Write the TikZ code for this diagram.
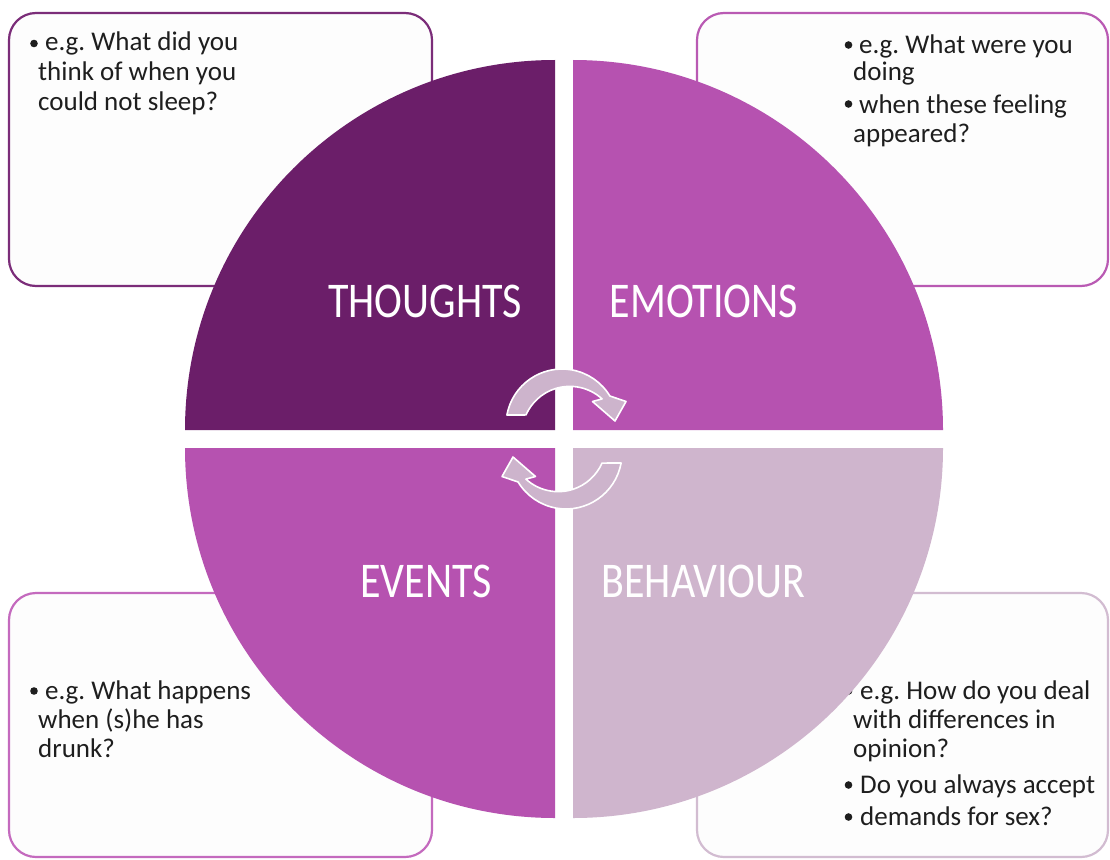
\documentclass[tikz,border=0pt]{standalone}
\usepackage{fontspec}
\setmainfont{Carlito}
\frenchspacing
\usetikzlibrary{calc}
\definecolor{qdark}{HTML}{6B1E69}
\definecolor{qmid}{HTML}{B652B0}
\definecolor{qlight}{HTML}{CFB5CD}
\definecolor{arrowfill}{HTML}{CDB4CC}
\definecolor{txt}{HTML}{1E1E1E}
\definecolor{bTL}{HTML}{7B2D79}
\definecolor{bTR}{HTML}{B95AB3}
\definecolor{bBL}{HTML}{C46ABE}
\definecolor{bBR}{HTML}{D2BCD1}
\definecolor{boxfill}{HTML}{FDFDFD}
\begin{document}
\begin{tikzpicture}[x=1pt,y=1pt,
  qbox/.style={rectangle, line width=2.2pt, rounded corners=27pt, fill=boxfill, inner sep=0pt},
  etxt/.style={anchor=base west, inner sep=0pt, text=txt, font=\fontsize{27}{29.5}\selectfont},
  bul/.style={circle, fill=txt, inner sep=0pt, minimum size=7.6pt},
  lbl/.style={anchor=base, inner sep=0pt, text=white, font=\fontsize{50}{60}\selectfont},
  cyclearrow/.style={fill=arrowfill, draw=white, line width=1.6pt, line join=round}]
\useasboundingbox (0,0) rectangle (1110,-859);
\fill[white] (0,0) rectangle (1110,-859);

% corner boxes
\node[qbox, draw=bTL, minimum width=423pt, minimum height=273pt] (boxTL) at (220.5,-149.5) {};
\node[qbox, draw=bTR, minimum width=411pt, minimum height=273pt] (boxTR) at (902.5,-149.5) {};
\node[qbox, draw=bBL, minimum width=423pt, minimum height=264pt] (boxBL) at (220.5,-725) {};
\node[qbox, draw=bBR, minimum width=411pt, minimum height=264pt] (boxBR) at (902.5,-725) {};

% texts in boxes
\node[bul] (bTL1) at (34,-43.5) {};
\node[etxt] (tTL1) at (45,-51) {e.g. What did you};
\node[etxt] (tTL2) at (38,-80.5) {think of when you};
\node[etxt] (tTL3) at (38,-110) {could not sleep?};

\node[bul] (bTR1) at (848.5,-45) {};
\node[etxt] (tTR1) at (859,-53) {e.g. What were you};
\node[etxt] (tTR2) at (853,-81) {doing};
\node[bul] (bTR2) at (848.5,-104) {};
\node[etxt] (tTR3) at (859,-113) {when these feeling};
\node[etxt] (tTR4) at (853,-142) {appeared?};

\node[bul] (bBL1) at (34,-691) {};
\node[etxt] (tBL1) at (45,-699) {e.g. What happens};
\node[etxt] (tBL2) at (38,-728) {when (s)he has};
\node[etxt] (tBL3) at (38,-757) {drunk?};

\node[bul] (bBR1) at (848.5,-691) {};
\node[etxt] (tBR1) at (860,-699) {e.g. How do you deal};
\node[etxt] (tBR2) at (853,-728) {with differences in};
\node[etxt] (tBR3) at (853,-757) {opinion?};
\node[bul] (bBR2) at (848.5,-785) {};
\node[etxt] (tBR4) at (860,-793) {Do you always accept};
\node[bul] (bBR3) at (848.5,-817) {};
\node[etxt] (tBR5) at (860,-825) {demands for sex?};

% quadrants
\fill[qdark] (555,-430) -- (185,-430) arc[start angle=180, end angle=90, radius=370] -- cycle;
\fill[qmid] (573,-430) -- (573,-60) arc[start angle=90, end angle=0, radius=370] -- cycle;
\fill[qmid] (555,-448) -- (185,-448) arc[start angle=180, end angle=270, radius=370] -- cycle;
\fill[qlight] (573,-448) -- (943,-448) arc[start angle=0, end angle=-90, radius=370] -- cycle;

% labels
\node[lbl] (thoughts) at (425,-317) {\scalebox{0.84}[1]{THOUGHTS}};
\node[lbl] (emotions) at (704,-317) {\scalebox{0.84}[1]{EMOTIONS}};
\node[lbl] (events) at (426,-597) {\scalebox{0.84}[1]{EVENTS}};
\node[lbl] (behaviour) at (703.5,-597) {\scalebox{0.84}[1]{BEHAVIOUR}};

% circular arrows
\draw[cyclearrow] (506.9,-415) arc[start angle=169.7, end angle=31.2, radius=56]
  -- (626,-401.5) -- (615,-421) -- (592.5,-401.5) -- (602.1,-398.9)
  arc[start angle=47.6, end angle=156.2, radius=47.9] -- cycle;
\begin{scope}[rotate around={180:(564,-439)}]
\draw[cyclearrow] (506.9,-415) arc[start angle=169.7, end angle=31.2, radius=56]
  -- (626,-401.5) -- (615,-421) -- (592.5,-401.5) -- (602.1,-398.9)
  arc[start angle=47.6, end angle=156.2, radius=47.9] -- cycle;
\end{scope}
\end{tikzpicture}
\end{document}
